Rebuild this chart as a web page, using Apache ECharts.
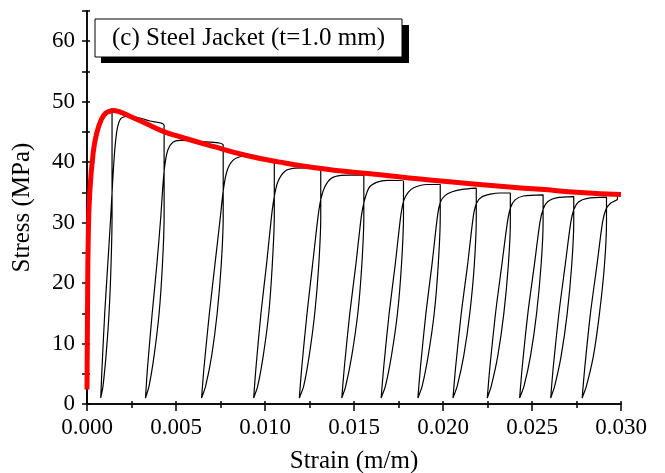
<!DOCTYPE html>
<html>
<head>
<meta charset="utf-8">
<script src="https://cdn.jsdelivr.net/npm/echarts@6/dist/echarts.min.js"></script>
<style>html,body{margin:0;padding:0;background:#fff}#c{width:665px;height:473px}</style>
</head>
<body>
<div id="c"></div>
<script>
// Axis settings
const xTicks = [0, 0.005, 0.010, 0.015, 0.020, 0.025, 0.030];
const yTicks = [0, 10, 20, 30, 40, 50, 60];
const panelLabel = '(c) Steel Jacket (t=1.0 mm)';

// Red envelope curve [strain, stress]
const envelope = [[0,2.4],[0.000028,15],[0.000068,27],[0.000152,34.8],[0.000338,41.3],[0.000529,44.6],[0.000810,47.1],[0.001052,48.1],[0.001277,48.4],[0.001463,48.55],[0.001840,48.3],[0.002402,47.6],[0.003342,46.35],[0.004276,45.1],[0.005216,44.2],[0.007089,42.6],[0.008969,41.1],[0.010842,40.0],[0.012716,39.1],[0.014595,38.45],[0.016469,37.9],[0.018720,37.2],[0.020970,36.6],[0.023221,36.0],[0.025471,35.5],[0.027722,35.0],[0.030000,34.65]];

// Black cyclic test curve: initial loading, then unload/reload cycles
const initialLoad = [[0,0],[0.000011,2.5],[0.000039,15],[0.000079,28],[0.000152,35],[0.000264,40],[0.000433,44],[0.000658,46.5],[0.000940,48],[0.001165,48.6],[0.001407,48.8]];
const cycle1 = [[0.001407,31],[0.001350,23],[0.001238,15],[0.001069,8],[0.000900,3],[0.000771,1],[0.000844,6],[0.000996,15],[0.001165,23],[0.001333,31],[0.001446,37],[0.001559,42],[0.001699,45.5],[0.001896,47.2],[0.002234,47.6],[0.002965,47.3],[0.003528,46.8],[0.004332,46.1]];
const cycle2 = [[0.004332,31],[0.004237,23],[0.004051,15],[0.003770,8],[0.003488,3],[0.003286,1],[0.003399,6],[0.003663,15],[0.003922,23],[0.004147,31],[0.004259,36],[0.004372,39.5],[0.004541,42],[0.004822,43.3],[0.005216,43.6],[0.006341,43.4],[0.007652,42.8]];
const cycle3 = [[0.007652,31],[0.007540,23],[0.007314,15],[0.007005,8],[0.006667,3],[0.006437,1],[0.006572,6],[0.006876,15],[0.007185,23],[0.007494,31],[0.007663,35.5],[0.007860,38.5],[0.008198,40.3],[0.008761,41.0],[0.009717,40.6],[0.010522,40.0]];
const cycle4 = [[0.010522,31],[0.010409,23],[0.010212,15],[0.009903,8],[0.009593,3],[0.009362,1],[0.009492,6],[0.009773,15],[0.010083,23],[0.010364,31],[0.010533,34.5],[0.010730,36.8],[0.011124,38.5],[0.011686,39.0],[0.013132,39.1]];
const cycle5 = [[0.013132,31],[0.013020,23],[0.012795,15],[0.012485,8],[0.012176,3],[0.011928,1],[0.012063,6],[0.012362,15],[0.012671,23],[0.012980,31],[0.013149,34],[0.013374,36],[0.013712,37.3],[0.014274,37.8],[0.015552,37.9]];
const cycle6 = [[0.015552,31],[0.015439,23],[0.015214,15],[0.014877,8],[0.014539,3],[0.014314,1],[0.014455,6],[0.014764,15],[0.015102,23],[0.015411,31],[0.015580,33.6],[0.015850,35.8],[0.016300,36.7],[0.016863,37.0],[0.017780,36.9]];
const cycle7 = [[0.017780,31],[0.017667,23],[0.017442,15],[0.017105,8],[0.016767,3],[0.016525,1],[0.016666,6],[0.016975,15],[0.017313,23],[0.017622,31],[0.017791,33.6],[0.018044,35.0],[0.018382,35.8],[0.019097,36.3],[0.019845,36.3]];
const cycle8 = [[0.019845,31],[0.019732,23],[0.019507,15],[0.019170,8],[0.018832,3],[0.018590,1],[0.018731,6],[0.019040,15],[0.019378,23],[0.019687,31],[0.019856,33.4],[0.020126,34.5],[0.020520,35.1],[0.021082,35.5],[0.021870,35.7]];
const cycle9 = [[0.021870,31],[0.021758,23],[0.021505,15],[0.021167,8],[0.020801,3],[0.020559,1],[0.020706,6],[0.021026,15],[0.021381,23],[0.021701,31],[0.021881,33.2],[0.022152,34.2],[0.022658,34.7],[0.023221,34.9],[0.023783,34.9]];
const cycle10 = [[0.023783,30],[0.023671,23],[0.023418,15],[0.023080,8],[0.022714,3],[0.022489,1],[0.022630,6],[0.022951,15],[0.023305,23],[0.023615,30],[0.023795,32.5],[0.024065,33.8],[0.024515,34.4],[0.025623,34.6]];
const cycle11 = [[0.025623,30],[0.025511,23],[0.025258,15],[0.024920,8],[0.024554,3],[0.024306,1],[0.024447,6],[0.024768,15],[0.025133,23],[0.025443,30],[0.025634,32.3],[0.025893,33.5],[0.026371,34.1],[0.027345,34.3]];
const cycle12 = [[0.027345,30],[0.027232,23],[0.026979,15],[0.026641,8],[0.026276,3],[0.026051,1],[0.026191,6],[0.026512,15],[0.026866,23],[0.027176,30],[0.027356,32.2],[0.027609,33.4],[0.028116,34.0],[0.029185,34.2]];
const cycle13 = [[0.029185,30],[0.029072,23],[0.028791,15],[0.028453,8],[0.028059,3],[0.027817,1],[0.027964,6],[0.028284,15],[0.028650,23],[0.028959,30],[0.029156,32.2],[0.029410,33.2],[0.029663,33.6],[0.029787,33.8],[0.029804,34.3]];

const cyclicPath = [].concat(initialLoad, cycle1, cycle2, cycle3, cycle4, cycle5, cycle6, cycle7, cycle8, cycle9, cycle10, cycle11, cycle12, cycle13);

const FONT = 'Liberation Serif';
const chart = echarts.init(document.getElementById('c'), null, {renderer: 'canvas'});
const axisLine = {show: true, lineStyle: {color: '#000', width: 1.5}};
chart.setOption({
  animation: false,
  backgroundColor: '#fff',
  grid: {left: 87, top: 11, right: 44, bottom: 69, containLabel: false, outerBoundsMode: 'none'},
  xAxis: [{
    type: 'value', min: xTicks[0], max: xTicks[xTicks.length - 1], interval: xTicks[1] - xTicks[0],
    position: 'bottom', axisLine: axisLine,
    axisTick: {show: true, inside: false, length: 7, lineStyle: {color: '#000', width: 1.5}},
    minorTick: {show: true, splitNumber: 2, length: 4, lineStyle: {color: '#000', width: 1.5}},
    splitLine: {show: false},
    axisLabel: {color: '#000', fontFamily: FONT, fontSize: 23, margin: 12, formatter: v => v.toFixed(3)},
    name: 'Strain (m/m)', nameLocation: 'middle', nameGap: 45,
    nameTextStyle: {color: '#000', fontFamily: FONT, fontSize: 25}
  }, {
    type: 'value', min: 0, max: 0.03, interval: 0.0025, position: 'top',
    axisLine: axisLine,
    axisTick: {show: true, inside: false, length: 3, lineStyle: {color: '#000', width: 1.5}},
    axisLabel: {show: false}, splitLine: {show: false}
  }],
  yAxis: [{
    type: 'value', min: 0, max: 65, interval: 5, position: 'left', axisLine: axisLine,
    axisTick: {show: true, inside: false, length: 5, lineStyle: {color: '#000', width: 1.5}},
    splitLine: {show: false},
    axisLabel: {color: '#000', fontFamily: FONT, fontSize: 23, margin: 12,
      formatter: v => (yTicks.indexOf(v) >= 0 ? String(v) : '')},
    name: 'Stress (MPa)', nameLocation: 'middle', nameGap: 52,
    nameTextStyle: {color: '#000', fontFamily: FONT, fontSize: 25}
  }, {
    type: 'value', min: 0, max: 65, interval: 5, position: 'right', axisLine: axisLine,
    axisTick: {show: true, inside: false, length: 3, lineStyle: {color: '#000', width: 1.5}},
    axisLabel: {show: false}, splitLine: {show: false}
  }],
  series: [{
    type: 'line', xAxisIndex: 0, yAxisIndex: 0, data: cyclicPath, showSymbol: false, symbol: 'none',
    smooth: 0.25, lineStyle: {color: '#000', width: 1.2}, z: 2
  }, {
    type: 'line', xAxisIndex: 0, yAxisIndex: 0, data: envelope, showSymbol: false, symbol: 'none',
    smooth: true, lineStyle: {color: '#ff0000', width: 5}, z: 3
  }],
  graphic: [
    {type: 'rect', shape: {x: 101, y: 25, width: 308, height: 38}, style: {fill: '#000'}, z: 10},
    {type: 'rect', shape: {x: 95, y: 19, width: 307, height: 38}, style: {fill: '#fff', stroke: '#000', lineWidth: 1}, z: 11},
    {type: 'text', x: 248.5, y: 38, style: {text: panelLabel, textAlign: 'center', textVerticalAlign: 'middle', font: '25px "Liberation Serif"', fill: '#000'}, z: 12}
  ]
});
</script>
</body>
</html>
